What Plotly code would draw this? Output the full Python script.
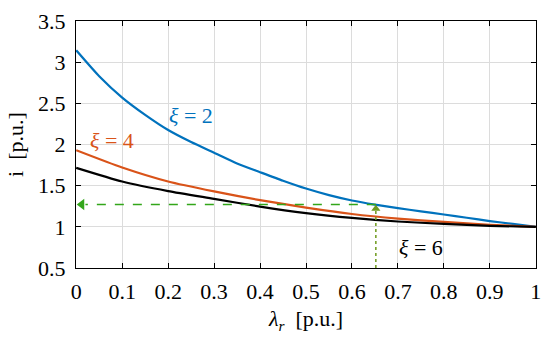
import plotly.graph_objects as go

lam = [0.0, 0.05, 0.1, 0.15, 0.2, 0.25, 0.3, 0.35, 0.4, 0.45, 0.5,
       0.55, 0.6, 0.65, 0.7, 0.75, 0.8, 0.85, 0.9, 0.95, 1.0]
i_xi2 = [3.145, 2.83, 2.57, 2.36, 2.176, 2.03, 1.90, 1.77, 1.664, 1.56, 1.465,
         1.385, 1.32, 1.27, 1.228, 1.188, 1.15, 1.11, 1.07, 1.035, 1.0]
lam_c = [0.0, 0.1, 0.2, 0.3, 0.4, 0.5, 0.6, 0.7, 0.8, 0.9, 1.0]
i_xi4 = [1.93, 1.72, 1.55, 1.43, 1.324, 1.234, 1.156, 1.10, 1.06, 1.025, 1.0]
i_xi6 = [1.716, 1.55, 1.434, 1.34, 1.246, 1.167, 1.108, 1.065, 1.035, 1.012, 1.0]

op_lam = 0.652
op_i = 1.27

xticks = [0, 0.1, 0.2, 0.3, 0.4, 0.5, 0.6, 0.7, 0.8, 0.9, 1]
xticklabels = ["0", "0.1", "0.2", "0.3", "0.4", "0.5", "0.6", "0.7", "0.8", "0.9", "1"]
yticks = [0.5, 1, 1.5, 2, 2.5, 3, 3.5]
yticklabels = ["0.5", "1", "1.5", "2", "2.5", "3", "3.5"]

FONT = "Liberation Serif"

fig = go.Figure()
for xs, ys, col in [(lam, i_xi2, "#0072BD"), (lam_c, i_xi4, "#D95319"), (lam_c, i_xi6, "#000000")]:
    fig.add_trace(go.Scatter(x=xs, y=ys, mode="lines",
                             line=dict(color=col, width=2.2, shape="spline", smoothing=0.6),
                             showlegend=False))

# dashed guide lines
fig.add_trace(go.Scatter(x=[op_lam, 0.02], y=[op_i, op_i], mode="lines",
                         line=dict(color="#33a61a", width=1.5, dash="dash"), showlegend=False))
fig.add_trace(go.Scatter(x=[op_lam, op_lam], y=[0.5, op_i - 0.03], mode="lines",
                         line=dict(color="#6e9a1c", width=1.5, dash="dot"), showlegend=False))

# arrowheads
fig.add_trace(go.Scatter(x=[0.012], y=[op_i], mode="markers",
                         marker=dict(symbol="triangle-left", size=10, color="#33a61a"),
                         showlegend=False))
fig.add_trace(go.Scatter(x=[op_lam], y=[op_i - 0.05], mode="markers",
                         marker=dict(symbol="triangle-up", size=8, color="#6e9a1c"),
                         showlegend=False))

# curve labels
fig.add_annotation(x=0.25, y=2.35, text="<i>ξ</i> = 2", showarrow=False,
                   font=dict(family=FONT, size=22, color="#0072BD"))
fig.add_annotation(x=0.078, y=2.05, text="<i>ξ</i> = 4", showarrow=False,
                   font=dict(family=FONT, size=22, color="#D95319"))
fig.add_annotation(x=0.75, y=0.75, text="<i>ξ</i> = 6", showarrow=False,
                   font=dict(family=FONT, size=22, color="#000000"))

axis_common = dict(showgrid=True, gridcolor="#dcdcdc", gridwidth=1, zeroline=False,
                   showline=True, linecolor="black", linewidth=1.2, mirror="ticks",
                   ticks="inside", ticklen=5, tickcolor="black",
                   tickfont=dict(family=FONT, size=22, color="black"))

fig.update_xaxes(range=[-0.0005, 1.0005], tickvals=xticks, ticktext=xticklabels,
                 ticklabelstandoff=3,
                 title=dict(text="<i>λ<sub>r</sub></i>&nbsp;&nbsp;[p.u.]",
                            font=dict(family=FONT, size=22, color="black"), standoff=8),
                 **axis_common)
fig.update_yaxes(range=[0.5, 3.5], tickvals=yticks, ticktext=yticklabels,
                 ticklabelstandoff=5,
                 title=dict(text="i&nbsp;&nbsp;[p.u.]",
                            font=dict(family=FONT, size=22, color="black"), standoff=8),
                 **axis_common)

fig.update_layout(width=550, height=340, margin=dict(l=76, r=9, t=13, b=72),
                  font=dict(family=FONT),
                  plot_bgcolor="white", paper_bgcolor="white", showlegend=False)

fig.write_html("out.html", config={"displayModeBar": False},
               post_script="document.body.style.margin='0';document.body.style.overflow='hidden';")
